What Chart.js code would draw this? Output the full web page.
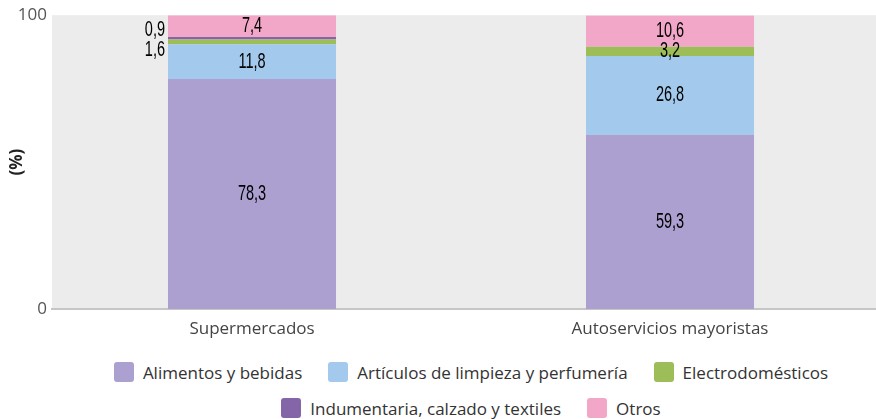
<!DOCTYPE html>
<html>
<head>
<meta charset="utf-8">
<script src="https://cdn.jsdelivr.net/npm/chart.js@4"></script>
<style>
  body { margin: 0; background: #fff; }
  #wrap { position: relative; width: 876px; height: 419px; }
  #legend { position: absolute; left: 66px; top: 354px; width: 810px; font-family: "Open Sans", sans-serif; font-size: 17px; color: #333; }
  .row { display: flex; justify-content: center; height: 36px; align-items: center; }
  .item { display: flex; align-items: center; margin: 0 13px; white-space: nowrap; }
  .box { width: 20px; height: 20px; border-radius: 3px; margin-right: 9px; }
</style>
</head>
<body>
<div id="wrap">
  <canvas id="c" width="876" height="345"></canvas>
  <div id="legend"></div>
</div>
<script>
const categories = ['Supermercados', 'Autoservicios mayoristas']
const seriesNames = ['Alimentos y bebidas', 'Artículos de limpieza y perfumería', 'Electrodomésticos', 'Indumentaria, calzado y textiles', 'Otros']
const alimentos = [78.3, 59.3]
const limpieza = [11.8, 26.8]
const electro = [1.6, 3.2]
const indumentaria = [0.9, 0]
const otros = [7.4, 10.6]
const colors = ['#aba0cf', '#a3c9ec', '#9dbd59', '#8466a8', '#f2a7c9']
const legendRows = [[0, 1, 2], [3, 4]]

const fmt = v => v.toFixed(1).replace('.', ',')

//gray plot background
const plotBg = {
  id: 'plotBg',
  beforeDraw(chart) {
    const {ctx, chartArea} = chart
    ctx.save()
    ctx.fillStyle = '#ececec'
    ctx.fillRect(chartArea.left, chartArea.top, chartArea.right - chartArea.left, chartArea.bottom - chartArea.top)
    ctx.restore()
  }
}

const drawLabel = (ctx, text, x, y, align) => {
  ctx.save()
  ctx.translate(x, y)
  ctx.scale(0.66, 1)
  ctx.textAlign = align
  ctx.textBaseline = 'middle'
  ctx.fillText(text, 0, 0)
  ctx.restore()
}

//value labels, small ones go left of the bar
const valueLabels = {
  id: 'valueLabels',
  afterDatasetsDraw(chart) {
    const ctx = chart.ctx
    ctx.save()
    ctx.font = '22px "Liberation Sans Narrow", "Liberation Sans", sans-serif'
    ctx.fillStyle = '#000'
    chart.data.labels.forEach((cat, i) => {
      let outside = []
      chart.data.datasets.forEach((ds, d) => {
        const v = ds.data[i].y
        if (!v) return
        const bar = chart.getDatasetMeta(d).data[i]
        const y = (bar.y + bar.base) / 2
        if (v < 2) outside.push({v, x: bar.x - bar.width / 2 - 3, y})
        else drawLabel(ctx, fmt(v), bar.x, y, 'center')
      })
      if (outside.length > 1) {
        outside.sort((a, b) => b.y - a.y)
        const mean = outside.reduce((s, o) => s + o.y, 0) / outside.length
        outside.forEach((o, k) => { o.y = mean + ((outside.length - 1) / 2 - k) * 20 })
      }
      outside.forEach(o => drawLabel(ctx, fmt(o.v), o.x, o.y, 'right'))
    })
    ctx.restore()
  }
}

const series = [alimentos, limpieza, electro, indumentaria, otros]

new Chart(document.getElementById('c'), {
  type: 'bar',
  data: {
    labels: categories,
    datasets: series.map((data, i) => ({
      label: seriesNames[i],
      data: data.map((v, k) => ({x: k, y: v})),
      backgroundColor: colors[i],
      borderWidth: 0,
      barPercentage: 0.402,
      categoryPercentage: 1
    }))
  },
  options: {
    responsive: false,
    animation: false,
    layout: { padding: { top: 15, right: 0, left: 0, bottom: 0 } },
    plugins: {
      legend: { display: false },
      tooltip: { enabled: false }
    },
    scales: {
      x: {
        type: 'linear',
        stacked: true,
        offset: false,
        min: -0.4785,
        max: 1.4928,
        grid: { display: false },
        border: { color: '#c6c6c6', width: 2 },
        afterBuildTicks: s => { s.ticks = categories.map((c, k) => ({value: k})) },
        ticks: { color: '#444', padding: 2, font: { family: 'Open Sans', size: 17 }, callback: v => categories[v] },
        afterFit: s => { s.height = 36 }
      },
      y: {
        stacked: true,
        min: 0,
        max: 100,
        grid: { display: false, drawTicks: false },
        border: { display: false },
        ticks: { stepSize: 100, color: '#555', padding: 5, font: { family: 'Open Sans', size: 17 } },
        title: { display: true, text: '(%)', color: '#222', padding: { top: 7, bottom: 0 }, font: { family: 'Open Sans', size: 17, weight: 'bold' } },
        afterFit: s => { s.width = 52 }
      }
    }
  },
  plugins: [plotBg, valueLabels]
})

//html legend, two centered rows
const legendDiv = document.getElementById('legend')
legendRows.forEach(row => {
  let r = document.createElement('div')
  r.className = 'row'
  row.forEach(i => {
    let item = document.createElement('div')
    item.className = 'item'
    let box = document.createElement('span')
    box.className = 'box'
    box.style.background = colors[i]
    let t = document.createElement('span')
    t.innerText = seriesNames[i]
    item.appendChild(box)
    item.appendChild(t)
    r.appendChild(item)
  })
  legendDiv.appendChild(r)
})
</script>
</body>
</html>
